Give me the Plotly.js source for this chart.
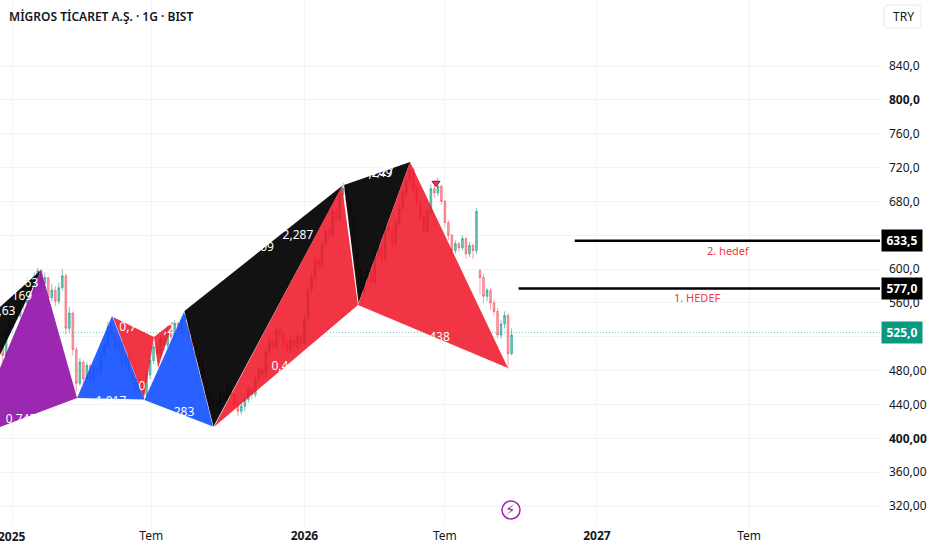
<!DOCTYPE html>
<html>
<head>
<meta charset="utf-8">
<script src="https://cdn.plot.ly/plotly-3.0.1.min.js"></script>
<style>
  html, body { margin: 0; padding: 0; background: #fff; }
  #chart { width: 932px; height: 550px; }
</style>
</head>
<body>
<div id="chart"></div>
<script>
// x is the bar index (trading days), like the source chart; y is price in TRY
var closes = [
  510,498,525,535,552,545,568,560,584,575,
  590,598,583,590,566,575,562,578,592,530,
  548,505,465,490,470,486,468,482,478,498,
  510,532,524,505,512,490,498,478,470,458,
  466,452,475,492,508,500,518,510,528,520,
  536,528,540,545,520,508,498,490,470,452,
  440,445,438,454,448,462,452,440,432,438,
  446,458,452,470,482,476,502,515,508,528,
  522,512,505,516,508,520,512,542,575,590,
  610,605,630,645,640,668,660,688,695,680,
  665,625,600,572,590,598,585,618,625,612,
  650,645,630,655,672,690,705,718,695,678,
  662,645,668,695,690,698,680,655,640,622,
  630,625,636,618,628,622,668,590,568,575,
  560,550,522,535,545,500,522
];
var highs = [
  516,512,530,542,558,556,574,570,590,586,
  596,601,600,596,590,582,580,584,600,595,
  555,550,508,495,492,490,488,486,486,502,
  514,538,536,526,516,514,502,500,480,472,
  470,468,480,496,512,510,522,520,532,530,
  540,538,544,550,548,522,510,500,492,472,
  455,450,448,458,456,466,464,454,442,442,
  450,462,460,474,486,484,506,520,518,532,
  530,526,516,520,518,524,522,546,580,596,
  616,614,634,650,650,672,672,692,702,700,
  684,668,628,602,594,602,600,622,630,628,
  654,654,648,660,678,694,710,726,720,698,
  680,664,672,700,700,708,700,682,658,642,
  634,632,640,638,632,630,672,600,594,578,
  578,564,554,540,550,548,530
];
var lows = [
  495,490,495,522,530,540,542,552,556,570,
  570,585,578,578,560,562,556,558,574,522,
  525,498,455,462,465,465,462,464,470,474,
  494,506,518,500,500,484,486,472,462,452,
  454,446,448,470,488,494,496,504,506,514,
  515,522,524,536,514,502,490,484,466,446,
  434,436,430,434,442,444,448,436,426,428,
  432,442,446,448,466,470,472,498,502,504,
  516,506,498,500,502,504,506,510,538,570,
  586,598,602,624,634,636,654,656,682,674,
  660,620,596,568,566,584,580,582,612,606,
  608,638,624,626,650,668,684,700,690,672,
  656,640,640,664,684,686,676,650,634,616,
  618,620,622,612,614,612,618,570,560,562,
  552,544,518,518,530,482,498
];
var gapOpens = {137: 598};

var bars = closes.map(function (c, i) { return -11 + 3 * i; });
var opens = closes.map(function (c, i) {
  if (gapOpens[i]) return gapOpens[i];
  return i ? closes[i - 1] : c;
});

// harmonic patterns: corners as [bar index], [price]
var blackLeftX = [-10.3, 24.8, -10.3], blackLeftY = [555, 599, 498.5];
var purpleX = [-10.3, 24.8, 55.6, -10.3], purpleY = [483, 599, 447.7, 413.4];
var redSmall1X = [86.3, 121.4, 112.8], redSmall1Y = [543.4, 519.8, 447.7];
var redSmall2X = [121.4, 137.6, 124.8], redSmall2Y = [519.8, 537.5, 483];
var blue1X = [55.6, 85.5, 113.2], blue1Y = [447.7, 544.6, 446];
var blue2X = [113.2, 147, 171.8], blue2Y = [445.3, 549.3, 414];
var blackBigX = [147.4, 282.5, 172.2], blackBigY = [550.5, 698.8, 414];
var redBigX = [172.6, 282, 295.7], redBigY = [413.4, 698.2, 557.6];
var blackTopX = [283.8, 340.2, 296.2], blackTopY = [699.4, 726.6, 560];
var redLastX = [295.7, 340.2, 423.9], redLastY = [557.6, 726.6, 483.1];

// ratio labels, white, half lost where they run off the fill
var ratioText = ["2,287", "09", "0,4", "438", "1,249", "1,27", "283", "1,017", "0,745", "0,7", ",2", "0", "163", "169", ",63"];
var ratioX = [244.4, 218, 229, 365.4, 312, 316, 147, 84.6, 7.7, 99, 134, 111, 13.7, 8.5, -4.3];
var ratioY = [639, 625, 484, 518.6, 712, 714, 430, 443, 421.7, 530.4, 528, 460.7, 582, 567, 549];

var lastPrice = 525;
var target1 = 577, target2 = 633.5;
var target1Start = 433, target2Start = 481;

var priceTicks = [840, 800, 760, 720, 680, 640, 600, 560, 520, 480, 440, 400, 360, 320];
var priceLabels = ["840,0", "<b>800,0</b>", "760,0", "720,0", "680,0", "640,0", "600,0", "560,0", "520,0", "480,00", "440,00", "<b>400,00</b>", "360,00", "320,00"];
var timeTicks = [0, 119, 250, 370, 500, 630];
var timeLabels = ["", "Tem", "<b>2026</b>", "Tem", "<b>2027</b>", "Tem"];

var xMin = -10.26, xMax = 741.9;
var textFont = "Noto Sans, sans-serif";

function patch(xs, ys, color) {
  return {
    x: xs, y: ys, type: "scatter", mode: "lines",
    fill: "toself", fillcolor: color,
    line: {width: 0}, hoverinfo: "skip"
  };
}

function hline(x0, price) {
  return {
    x: [x0, xMax], y: [price, price], type: "scatter", mode: "lines",
    line: {color: "#000000", width: 2.5}, hoverinfo: "skip"
  };
}

var RED = "rgba(240,18,36,0.85)";
var BLACK = "rgba(0,0,0,0.93)";
var BLUE = "rgba(17,80,255,0.9)";
var PURPLE = "rgba(145,15,167,0.9)";

var data = [
  {
    x: bars, open: opens, high: highs, low: lows, close: closes,
    type: "candlestick", width: 1.5,
    increasing: {line: {color: "rgba(8,153,129,0.55)", width: 1}, fillcolor: "rgba(8,153,129,0.55)"},
    decreasing: {line: {color: "rgba(242,54,69,0.45)", width: 1}, fillcolor: "rgba(242,54,69,0.45)"},
    whiskerwidth: 0, hoverinfo: "skip"
  },
  {
    x: [xMin, xMax], y: [lastPrice, lastPrice], type: "scatter", mode: "lines",
    line: {color: "rgba(8,153,129,0.55)", width: 1, dash: "1px 2px"}, hoverinfo: "skip"
  },
  patch(blackLeftX, blackLeftY, BLACK),
  patch(purpleX, purpleY, PURPLE),
  patch(redSmall1X, redSmall1Y, RED),
  patch(redSmall2X, redSmall2Y, RED),
  patch(blue1X, blue1Y, BLUE),
  patch(blue2X, blue2Y, BLUE),
  patch(blackBigX, blackBigY, BLACK),
  patch(redBigX, redBigY, RED),
  patch(blackTopX, blackTopY, BLACK),
  patch(redLastX, redLastY, RED),
  hline(target1Start, target1),
  hline(target2Start, target2),
  {
    x: [362.4], y: [701.7], type: "scatter", mode: "markers",
    marker: {symbol: "triangle-down", size: 7, color: "#f23645", line: {color: "#880e4f", width: 1}},
    hoverinfo: "skip"
  },
  {
    x: ratioX, y: ratioY, text: ratioText, type: "scatter", mode: "text",
    textposition: "middle center",
    textfont: {family: textFont, size: 12, color: "#ffffff"},
    hoverinfo: "skip"
  },
  {
    x: [426.5], y: [315.3], type: "scatter", mode: "markers",
    marker: {symbol: "circle", size: 18, color: "#ffffff", line: {color: "#9c27b0", width: 1.5}},
    hoverinfo: "skip", cliponaxis: false
  }
];

function badge(price, label, bg) {
  return {
    xref: "paper", x: 881 / 880, xanchor: "left",
    yref: "y", y: price, yanchor: "middle",
    text: "<b>" + label + "</b>", showarrow: false,
    font: {family: textFont, size: 12, color: "#ffffff"},
    bgcolor: bg, borderpad: 2, width: 36
  };
}

var layout = {
  width: 932, height: 550,
  margin: {l: 0, r: 52, t: 0, b: 23, pad: 0},
  paper_bgcolor: "#ffffff", plot_bgcolor: "#ffffff",
  showlegend: false,
  xaxis: {
    range: [xMin, xMax], tickmode: "array", tickvals: timeTicks, ticktext: timeLabels,
    showgrid: true, gridcolor: "#f3f3f4", gridwidth: 1, zeroline: false, showline: false,
    ticks: "", rangeslider: {visible: false},
    tickfont: {family: textFont, size: 12, color: "#131722"}
  },
  yaxis: {
    side: "right", range: [295.2, 918], tickmode: "array", tickvals: priceTicks, ticktext: priceLabels,
    showgrid: true, gridcolor: "#f3f3f4", gridwidth: 1, zeroline: false, showline: false,
    ticks: "", ticklabelstandoff: 8,
    tickfont: {family: textFont, size: 12, color: "#131722"}
  },
  shapes: [
    {
      // TRY box, rounded
      type: "path", xref: "paper", yref: "paper",
      path: "M 1.0091,0.9905 L 1.0420,0.9905 Q 1.0466,0.9905 1.0466,0.9829 L 1.0466,0.9545 Q 1.0466,0.9469 1.0420,0.9469 L 1.0091,0.9469 Q 1.0045,0.9469 1.0045,0.9545 L 1.0045,0.9829 Q 1.0045,0.9905 1.0091,0.9905 Z",
      line: {color: "#e8eaee", width: 1}, layer: "above"
    }
  ],
  annotations: [
    {
      xref: "paper", yref: "paper", x: 6.5 / 880, y: 1 - 16 / 527, xanchor: "left", yanchor: "middle",
      text: "MİGROS TİCARET A.Ş. · 1G · BIST", showarrow: false,
      font: {family: textFont, size: 12, weight: 600, color: "#131722"}
    },
    {
      xref: "paper", yref: "paper", x: 903.5 / 880, y: 1 - 16 / 527, xanchor: "center", yanchor: "middle",
      text: "TRY", showarrow: false,
      font: {family: textFont, size: 12, color: "#131722"}
    },
    {
      xref: "x", yref: "paper", x: 0, y: 0, yshift: -9, xanchor: "center", yanchor: "middle",
      text: "<b>2025</b>", showarrow: false,
      font: {family: textFont, size: 12, color: "#131722"}
    },
    badge(target2, "633,5", "#000000"),
    badge(target1, "577,0", "#000000"),
    badge(lastPrice, "525,0", "#089981"),
    {
      xref: "x", yref: "y", x: 612, y: 621.5, text: "2. hedef", showarrow: false,
      font: {family: textFont, size: 11, color: "#f23645"}
    },
    {
      xref: "x", yref: "y", x: 586, y: 566, text: "1. HEDEF", showarrow: false,
      font: {family: textFont, size: 11, color: "#f23645"}
    },
    {
      xref: "x", yref: "y", x: 426.5, y: 315.3, text: "⚡", showarrow: false,
      font: {family: "DejaVu Sans", size: 15, color: "#9c27b0"}
    }
  ]
};

Plotly.newPlot("chart", data, layout, {staticPlot: true, displayModeBar: false});
</script>
</body>
</html>
